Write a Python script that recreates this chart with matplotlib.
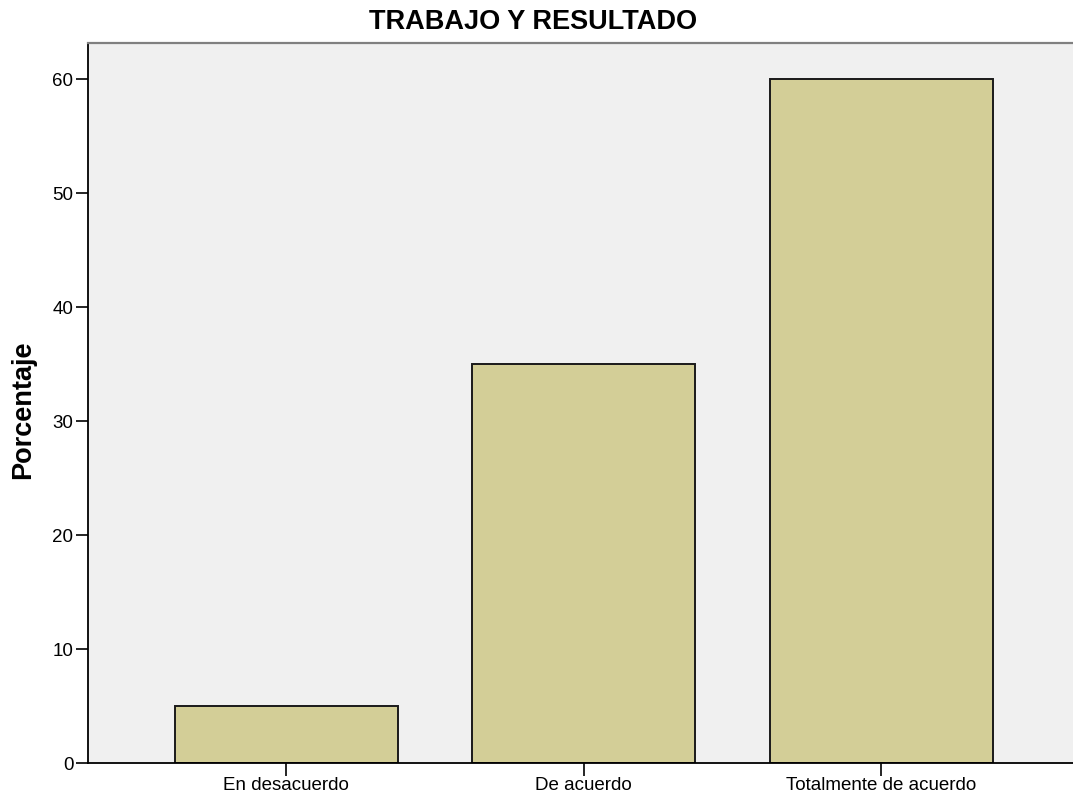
import numpy as np
import matplotlib.pyplot as plt

plt.rcParams['font.family'] = ['Liberation Sans', 'DejaVu Sans']

categorias = ['En desacuerdo', 'De acuerdo', 'Totalmente de acuerdo']
porcentajes = [5.0, 35.0, 60.0]
yticks = [0, 10, 20, 30, 40, 50, 60]

fig = plt.figure(figsize=(10.73, 7.98), dpi=100)
ax = fig.add_axes([88 / 1073, 1 - 763 / 798, 1 - 88 / 1073, (763 - 43) / 798])
ax.set_facecolor('#f0f0f0')

x = np.arange(len(categorias))
ax.bar(x, porcentajes, 0.75, color='#d3ce97', edgecolor='#1a1a1a', linewidth=1.4, zorder=2)

ax.set_xlim(-0.666, 2.645)
ax.set_ylim(0, 63.16)
ax.set_xticks(x)
ax.set_xticklabels(categorias, fontsize=13.5)
ax.set_yticks(yticks)
ax.set_yticklabels([str(v) for v in yticks], fontsize=13.5)
ax.tick_params(axis='both', direction='out', length=9, width=1.2, color='black')
ax.tick_params(axis='y', pad=1.5)
ax.tick_params(axis='x', pad=1)

ax.spines['right'].set_visible(False)
ax.spines['top'].set_color('#808080')
ax.spines['top'].set_linewidth(1.6)
for s in ['left', 'bottom']:
    ax.spines[s].set_color('black')
    ax.spines[s].set_linewidth(1.3)

ax.set_ylabel('Porcentaje', fontsize=19.5, fontweight='bold')
ax.yaxis.set_label_coords(-0.053, 0.49)
fig.text(533 / 1073, 1 - 22 / 798, 'TRABAJO Y RESULTADO', fontsize=19.5, fontweight='bold',
         ha='center', va='center')

fig.savefig('out.png', dpi=100)
